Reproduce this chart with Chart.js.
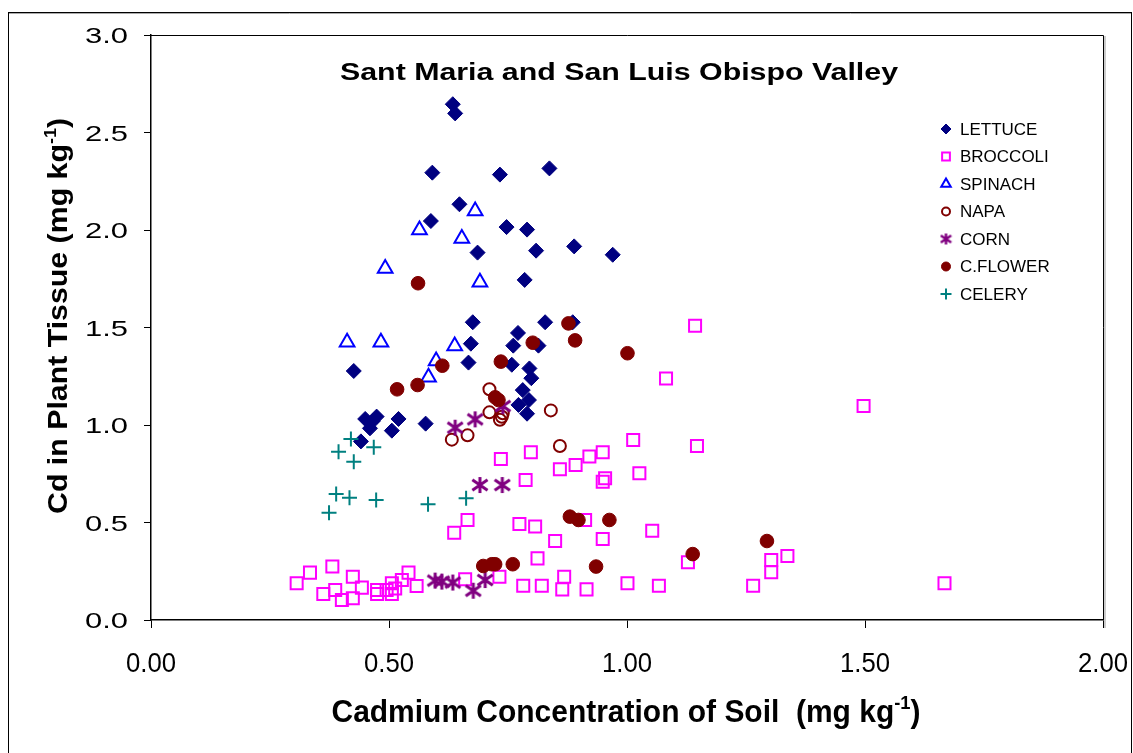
<!DOCTYPE html>
<html>
<head>
<meta charset="utf-8">
<title>Cd in plant tissue vs soil</title>
<script src="https://cdn.jsdelivr.net/npm/chart.js@4.4.1/dist/chart.umd.min.js"></script>
<style>
  html, body { margin: 0; padding: 0; background: #fff; }
  canvas { display: block; }
</style>
</head>
<body>
<canvas id="cdChart" width="1133" height="753"></canvas>
<script>
// soil Cd vs tissue Cd (mg/kg), one list of [soil, tissue] pairs per crop
const LETTUCE = [
  [0.634, 2.645], [0.639, 2.598], [0.591, 2.294], [0.733, 2.284], [0.837, 2.316],
  [0.648, 2.132], [0.588, 2.046], [0.747, 2.015], [0.790, 2.002], [0.686, 1.884],
  [0.809, 1.894], [0.889, 1.916], [0.970, 1.873], [0.785, 1.744], [0.676, 1.527],
  [0.828, 1.527], [0.886, 1.527], [0.771, 1.472], [0.672, 1.417], [0.761, 1.407],
  [0.814, 1.407], [0.667, 1.320], [0.758, 1.309], [0.795, 1.290], [0.799, 1.240],
  [0.781, 1.179], [0.794, 1.128], [0.772, 1.103], [0.790, 1.058], [0.426, 1.277],
  [0.577, 1.007], [0.520, 1.031], [0.506, 0.971], [0.474, 1.043], [0.466, 1.020],
  [0.450, 1.031], [0.460, 0.983], [0.441, 0.916]
]
const BROCCOLI = [
  [1.143, 1.509], [1.082, 1.238], [1.497, 1.097], [1.013, 0.923], [1.147, 0.892],
  [0.735, 0.826], [0.798, 0.860], [0.921, 0.838], [0.949, 0.860], [0.859, 0.773],
  [0.892, 0.795], [1.026, 0.752], [0.787, 0.718], [0.949, 0.709], [0.954, 0.727],
  [0.665, 0.513], [0.637, 0.448], [0.774, 0.492], [0.807, 0.479], [0.912, 0.513],
  [0.849, 0.405], [0.949, 0.415], [1.053, 0.458], [0.812, 0.316], [1.128, 0.296],
  [1.303, 0.308], [1.337, 0.328], [1.303, 0.245], [0.868, 0.222], [0.732, 0.222],
  [0.660, 0.209], [0.782, 0.176], [0.821, 0.176], [0.864, 0.157], [0.915, 0.157],
  [1.001, 0.188], [1.067, 0.176], [1.265, 0.176], [1.667, 0.188], [0.306, 0.188],
  [0.334, 0.243], [0.381, 0.274], [0.362, 0.133], [0.387, 0.154], [0.401, 0.103],
  [0.424, 0.222], [0.424, 0.111], [0.443, 0.166], [0.475, 0.154], [0.475, 0.133],
  [0.495, 0.154], [0.506, 0.188], [0.506, 0.133], [0.513, 0.162], [0.527, 0.205],
  [0.541, 0.243], [0.558, 0.174]
]
const SPINACH = [
  [0.681, 2.097], [0.564, 2.000], [0.653, 1.957], [0.492, 1.803], [0.691, 1.732],
  [0.412, 1.424], [0.483, 1.424], [0.638, 1.405], [0.599, 1.328], [0.583, 1.245]
]
const NAPA = [
  [0.711, 1.183], [0.711, 1.065], [0.739, 1.060], [0.733, 1.027], [0.737, 1.042],
  [0.840, 1.075], [0.632, 0.925], [0.665, 0.947], [0.859, 0.892]
]
const CORN = [
  [0.639, 0.986], [0.681, 1.029], [0.739, 1.097], [0.691, 0.692], [0.738, 0.692],
  [0.597, 0.202], [0.611, 0.197], [0.634, 0.192], [0.677, 0.150], [0.702, 0.205]
]
const CFLOWER = [
  [0.561, 1.727], [0.877, 1.521], [0.802, 1.422], [0.891, 1.434], [1.001, 1.368],
  [0.735, 1.325], [0.612, 1.304], [0.517, 1.183], [0.560, 1.205], [0.723, 1.142],
  [0.730, 1.128], [0.880, 0.530], [0.898, 0.513], [0.963, 0.513], [0.698, 0.277],
  [0.716, 0.286], [0.723, 0.286], [0.760, 0.286], [0.935, 0.274], [1.138, 0.338],
  [1.294, 0.405]
]
const CELERY = [
  [0.420, 0.928], [0.394, 0.863], [0.468, 0.886], [0.426, 0.812], [0.389, 0.646],
  [0.417, 0.627], [0.473, 0.615], [0.582, 0.593], [0.662, 0.624], [0.374, 0.550]
]

const SERIES_NAMES = ['LETTUCE', 'BROCCOLI', 'SPINACH', 'NAPA', 'CORN', 'C.FLOWER', 'CELERY']
const X_TICKS = [0, 0.5, 1, 1.5, 2]
const X_TICK_LABELS = ['0.00', '0.50', '1.00', '1.50', '2.00']
const Y_TICKS = [0, 0.5, 1, 1.5, 2, 2.5, 3]
const Y_TICK_LABELS = ['0.0', '0.5', '1.0', '1.5', '2.0', '2.5', '3.0']

const TITLE = 'Sant Maria and San Luis Obispo Valley'
const X_TITLE = [['Cadmium Concentration of Soil  (mg kg', false], ['-1', true], [')', false]]
const Y_TITLE = [['Cd in Plant Tissue (mg kg', false], ['-1', true], [')', false]]

const FONT = 'Arial, "Liberation Sans", sans-serif'

// excel-style asterisk: vertical bar plus an X
function asterisk(size, color, lw) {
  const c = document.createElement('canvas')
  c.width = c.height = size
  const g = c.getContext('2d')
  const m = size / 2
  const r = size / 2 - 1
  g.strokeStyle = color
  g.lineWidth = lw
  g.beginPath()
  g.moveTo(m, m - r); g.lineTo(m, m + r)
  g.moveTo(m - r * 0.95, m - r * 0.65); g.lineTo(m + r * 0.95, m + r * 0.65)
  g.moveTo(m + r * 0.95, m - r * 0.65); g.lineTo(m - r * 0.95, m + r * 0.65)
  g.stroke()
  return c
}

const STYLES = [
  { pointStyle: 'rectRot', radius: 7.5, fill: '#000080', stroke: '#000080', lw: 1, legendR: 5 },
  { pointStyle: 'rect', radius: 8.5, fill: 'rgba(0,0,0,0)', stroke: '#FF00FF', lw: 2, legendR: 5.5 },
  { pointStyle: 'triangle', radius: 8.5, fill: 'rgba(0,0,0,0)', stroke: '#0000FF', lw: 2, legendR: 5.5 },
  { pointStyle: 'circle', radius: 6, fill: 'rgba(0,0,0,0)', stroke: '#800000', lw: 2, legendR: 4 },
  { pointStyle: asterisk(18, '#800080', 3), radius: 9, fill: '#800080', stroke: '#800080', lw: 2,
    legendImg: asterisk(13, '#800080', 2.5) },
  { pointStyle: 'circle', radius: 6.8, fill: '#800000', stroke: '#800000', lw: 1, legendR: 4.5 },
  { pointStyle: 'cross', radius: 7.5, fill: '#008080', stroke: '#008080', lw: 2, legendR: 5.5 }
]

const SERIES = [LETTUCE, BROCCOLI, SPINACH, NAPA, CORN, CFLOWER, CELERY]

const datasets = SERIES.map((pts, i) => ({
  label: SERIES_NAMES[i],
  data: pts.map(p => ({ x: p[0], y: p[1] })),
  pointStyle: STYLES[i].pointStyle,
  pointRadius: STYLES[i].radius,
  backgroundColor: STYLES[i].fill,
  borderColor: STYLES[i].stroke,
  borderWidth: STYLES[i].lw,
  // later series sit on top, like the original workbook
  order: SERIES.length - i
}))

// draw text centred on (x, y-baseline), squeezed/stretched to a target width
function drawRich(ctx, parts, o) {
  ctx.save()
  ctx.translate(o.x, o.y)
  if (o.rotate) ctx.rotate(o.rotate)
  const base = `${o.weight || 'bold'} ${o.size}px ${FONT}`
  const small = `${o.weight || 'bold'} ${Math.round(o.size * 0.6)}px ${FONT}`
  let w = 0
  parts.forEach(([t, sup]) => { ctx.font = sup ? small : base; w += ctx.measureText(t).width })
  if (o.width) ctx.scale(o.width / w, 1)
  ctx.fillStyle = '#000'
  ctx.textBaseline = 'alphabetic'
  let x = o.align === 'right' ? -w : -w / 2
  parts.forEach(([t, sup]) => {
    ctx.font = sup ? small : base
    ctx.fillText(t, x, sup ? -o.size * 0.42 : 0)
    x += ctx.measureText(t).width
  })
  ctx.restore()
}

const decorPlugin = {
  id: 'decor',
  beforeDraw(chart) {
    const ctx = chart.ctx
    ctx.save()
    ctx.fillStyle = '#fff'
    ctx.fillRect(0, 0, chart.width, chart.height)
    ctx.restore()
  },
  afterDraw(chart) {
    const ctx = chart.ctx
    const a = chart.chartArea
    const xs = chart.scales.x
    const ys = chart.scales.y

    ctx.save()
    // outer frame
    ctx.strokeStyle = '#000'
    ctx.lineWidth = 1
    ctx.strokeRect(8.5, 12.5, 1123, 760)
    ctx.strokeStyle = '#aaa'
    ctx.beginPath()
    ctx.moveTo(9, 13.5); ctx.lineTo(1131, 13.5)
    ctx.stroke()

    // plot box top + right edge
    ctx.strokeStyle = '#000'
    ctx.beginPath()
    ctx.moveTo(a.left, a.top + 0.5); ctx.lineTo(a.right + 0.5, a.top + 0.5)
    ctx.lineTo(a.right + 0.5, a.bottom)
    ctx.stroke()
    ctx.strokeStyle = '#999'
    ctx.beginPath()
    ctx.moveTo(a.right + 2, a.top + 1); ctx.lineTo(a.right + 2, a.bottom + 8)
    ctx.stroke()
    ctx.restore()

    // tick labels
    Y_TICKS.forEach((v, i) => {
      drawRich(ctx, [[Y_TICK_LABELS[i], false]],
        { x: 128, y: ys.getPixelForValue(v) + 8, size: 22, weight: 'normal', width: 43, align: 'right' })
    })
    X_TICKS.forEach((v, i) => {
      drawRich(ctx, [[X_TICK_LABELS[i], false]],
        { x: xs.getPixelForValue(v), y: 672, size: 28, weight: 'normal', width: 50 })
    })

    // titles
    drawRich(ctx, [[TITLE, false]], { x: 619, y: 80, size: 23, width: 558 })
    drawRich(ctx, X_TITLE, { x: 626, y: 722, size: 31, width: 589 })
    drawRich(ctx, Y_TITLE, { x: 67, y: 316, size: 27, width: 396, rotate: -Math.PI / 2 })

    // legend
    ctx.save()
    ctx.font = `17px ${FONT}`
    ctx.textBaseline = 'middle'
    ctx.fillStyle = '#000'
    SERIES_NAMES.forEach((name, i) => {
      const st = STYLES[i]
      const y = 129 + i * 27.5
      ctx.save()
      ctx.fillStyle = st.fill
      ctx.strokeStyle = st.stroke
      ctx.lineWidth = st.lw
      Chart.helpers.drawPoint(ctx, {
        pointStyle: st.legendImg || st.pointStyle,
        radius: st.legendR || 5,
        rotation: 0,
        borderWidth: st.lw
      }, 946, y)
      ctx.restore()
      ctx.fillText(name, 960, y + 1)
    })
    ctx.restore()
  }
}

new Chart(document.getElementById('cdChart'), {
  type: 'scatter',
  data: { datasets },
  options: {
    responsive: false,
    animation: false,
    events: [],
    layout: { padding: { top: 35, right: 30, left: 0, bottom: 0 } },
    plugins: {
      legend: { display: false },
      title: { display: false },
      tooltip: { enabled: false }
    },
    scales: {
      x: {
        type: 'linear',
        min: 0,
        max: 2,
        afterFit: s => { s.height = 133 },
        afterBuildTicks: s => { s.ticks = X_TICKS.map(v => ({ value: v })) },
        ticks: { display: false },
        grid: { drawOnChartArea: false, drawTicks: true, tickLength: 8, color: '#000', lineWidth: 1 },
        border: { display: true, color: '#000', width: 1.5 }
      },
      y: {
        type: 'linear',
        min: 0,
        max: 3,
        afterFit: s => { s.width = 151 },
        afterBuildTicks: s => { s.ticks = Y_TICKS.map(v => ({ value: v })) },
        ticks: { display: false },
        grid: { drawOnChartArea: false, drawTicks: true, tickLength: 7, color: '#000', lineWidth: 1 },
        border: { display: true, color: '#000', width: 1.5 }
      }
    }
  },
  plugins: [decorPlugin]
})
</script>
</body>
</html>
